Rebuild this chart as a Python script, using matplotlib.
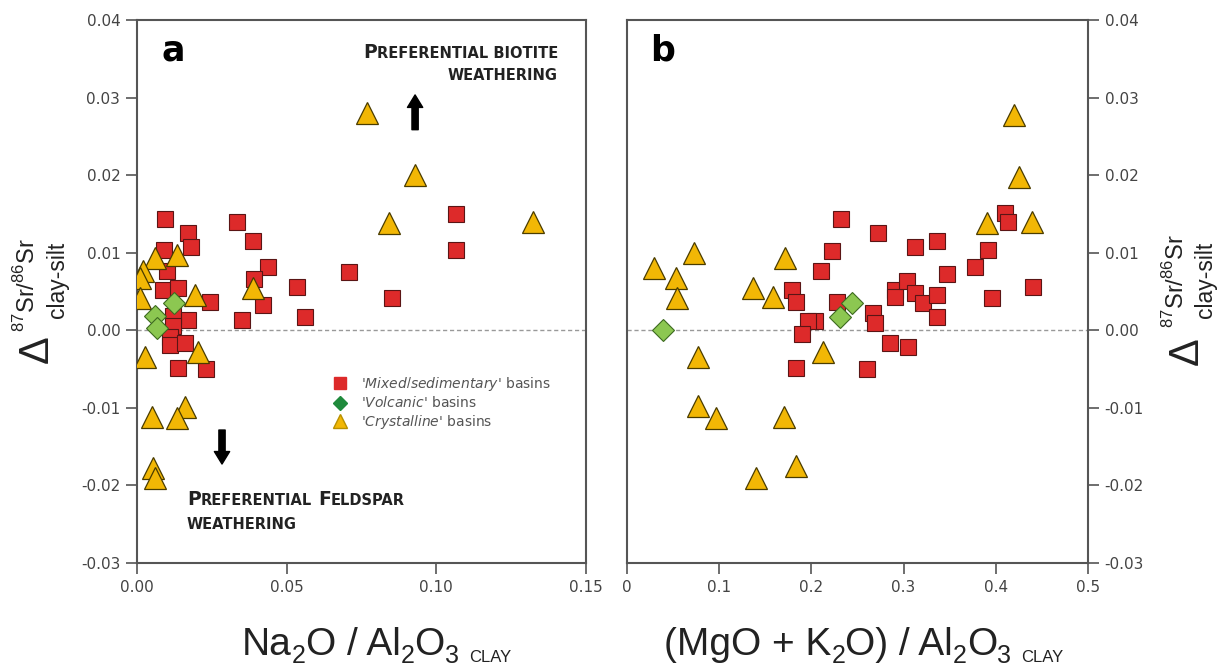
import matplotlib.pyplot as plt
from matplotlib.lines import Line2D
from matplotlib.transforms import IdentityTransform

plt.rcParams['mathtext.fontset'] = 'custom'
plt.rcParams['mathtext.rm'] = 'Liberation Sans'
plt.rcParams['mathtext.it'] = 'DejaVu Sans:italic'
plt.rcParams['font.family'] = 'DejaVu Sans'

# panel a: Na2O/Al2O3 vs delta 87Sr/86Sr
mixed_a_x = [0.0093, 0.0333, 0.017, 0.018, 0.0387, 0.009, 0.010, 0.0437, 0.039, 0.0533,
             0.0087, 0.0137, 0.0243, 0.042, 0.056, 0.035, 0.017, 0.012, 0.012, 0.011,
             0.011, 0.016, 0.0137, 0.023, 0.0707, 0.1067, 0.1067, 0.0853]
mixed_a_y = [0.0144, 0.0139, 0.0125, 0.0107, 0.0115, 0.0103, 0.0077, 0.0082, 0.0066, 0.0056,
             0.0052, 0.0054, 0.0036, 0.0033, 0.0017, 0.0013, 0.0013, 0.0019, 0.0006, -0.0009,
             -0.0019, -0.0017, -0.0048, -0.0050, 0.0075, 0.0150, 0.0103, 0.0041]
volc_a_x = [0.0123, 0.006, 0.0067]
volc_a_y = [0.0035, 0.0018, 0.0003]
cryst_a_x = [0.006, 0.0133, 0.002, 0.001, 0.001, 0.0193, 0.0387, 0.0027, 0.0203, 0.005,
             0.016, 0.0133, 0.0053, 0.006, 0.0767, 0.093, 0.0843, 0.1323]
cryst_a_y = [0.0093, 0.0097, 0.0077, 0.0067, 0.0041, 0.0045, 0.0054, -0.0035, -0.0028, -0.0112,
             -0.0099, -0.0113, -0.0177, -0.019, 0.028, 0.020, 0.0138, 0.0139]

# panel b: (MgO+K2O)/Al2O3 vs delta 87Sr/86Sr
mixed_b_x = [0.2321, 0.2723, 0.2226, 0.2104, 0.1789, 0.1835, 0.2277, 0.2040, 0.1962, 0.1898,
             0.2665, 0.2690, 0.2850, 0.1835, 0.2603, 0.3124, 0.3358, 0.3471, 0.3775, 0.3914,
             0.4100, 0.4132, 0.4402, 0.3959, 0.2909, 0.2909, 0.3036, 0.3124, 0.3211, 0.3358,
             0.3358, 0.3045]
mixed_b_y = [0.0143, 0.0125, 0.0102, 0.0076, 0.0052, 0.0036, 0.0036, 0.0012, 0.0012, -0.0005,
             0.0022, 0.0009, -0.0017, -0.0048, -0.005, 0.0107, 0.0115, 0.0073, 0.0082, 0.0103,
             0.0151, 0.0139, 0.0056, 0.0041, 0.0052, 0.0043, 0.0064, 0.0048, 0.0035, 0.0045,
             0.0017, -0.0021]
volc_b_x = [0.039, 0.2310, 0.2440]
volc_b_y = [0.0, 0.0017, 0.0035]
cryst_b_x = [0.0293, 0.0726, 0.0531, 0.0543, 0.1714, 0.1367, 0.1581, 0.0771, 0.2128, 0.0771,
             0.0966, 0.1702, 0.1396, 0.1835, 0.4252, 0.3904, 0.4392, 0.4197]
cryst_b_y = [0.0080, 0.0099, 0.0068, 0.0041, 0.0093, 0.0055, 0.0043, -0.0035, -0.0028, -0.0097,
             -0.0113, -0.0112, -0.019, -0.0175, 0.0197, 0.0138, 0.0139, 0.0277]

yticks = [-0.03, -0.02, -0.01, 0.00, 0.01, 0.02, 0.03, 0.04]
xticks_a = [0.00, 0.05, 0.10, 0.15]
xticks_b = [0, 0.1, 0.2, 0.3, 0.4, 0.5]
xticklabels_b = ['0', '0.1', '0.2', '0.3', '0.4', '0.5']

red, red_edge = '#dd2a2a', '#5a1515'
yel, yel_edge = '#f2b705', '#4a3c00'
grn, grn_edge = '#8cc751', '#3d6a20'
spine_col = '#555555'
tick_col = '#444444'
txt_col = '#222222'

W, H = 1224, 671
fig = plt.figure(figsize=(W / 100, H / 100), dpi=100)
axa = fig.add_axes([137 / W, 108 / H, 449 / W, 543 / H])
axb = fig.add_axes([627 / W, 108 / H, 461 / W, 543 / H])
rend = fig.canvas.get_renderer()


def draw_points(ax, mx, my, vx, vy, cx, cy):
    ax.axhline(0, color='#999999', lw=1, ls=(0, (3, 2)), zorder=1)
    ax.plot(mx, my, 's', ms=11, mfc=red, mec=red_edge, mew=0.8, zorder=3)
    ax.plot(cx, cy, '^', ms=16, mfc=yel, mec=yel_edge, mew=0.9, zorder=4)
    ax.plot(vx, vy, 'D', ms=11, mfc=grn, mec=grn_edge, mew=0.8, zorder=5)
    ax.set_ylim(-0.03, 0.04)
    ax.set_yticks(yticks)
    ax.set_yticklabels(['%.2f' % t for t in yticks])
    for s in ax.spines.values():
        s.set_color(spine_col)
        s.set_linewidth(1.5)
    ax.tick_params(colors=spine_col, labelcolor=tick_col, labelsize=11, width=1.2, length=8, pad=4)


def put_pieces(x, y, parts, ha='left', family='DejaVu Sans', weight='normal'):
    # x, y in picture pixels (y down); parts are (text, size, drop, gap)
    made = []
    dx = 0
    for txt, size, drop, gap in parts:
        dx += gap
        t = fig.text(x + dx, H - y - drop, txt, transform=IdentityTransform(), fontsize=size,
                     family=family, fontweight=weight, color=txt_col, ha='left', va='baseline')
        dx += t.get_window_extent(rend).width
        made.append(t)
    if ha == 'right':
        for t in made:
            px, py = t.get_position()
            t.set_position((px - dx, py))


def delta_label(xd, yd, xs, ys, xc, yc):
    kw = dict(transform=IdentityTransform(), rotation=90, ha='center', va='bottom',
              family='Liberation Sans', color=txt_col)
    fig.text(xd, H - yd, '\u0394', fontsize=30, **kw)
    fig.text(xs, H - ys, r'$^{87}$Sr/$^{86}$Sr', fontsize=17, **kw)
    fig.text(xc, H - yc, 'clay-silt', fontsize=16.5, **kw)


draw_points(axa, mixed_a_x, mixed_a_y, volc_a_x, volc_a_y, cryst_a_x, cryst_a_y)
axa.set_xlim(0, 0.15)
axa.set_xticks(xticks_a)
axa.set_xticklabels(['%.2f' % t for t in xticks_a])

draw_points(axb, mixed_b_x, mixed_b_y, volc_b_x, volc_b_y, cryst_b_x, cryst_b_y)
axb.set_xlim(0, 0.5)
axb.set_xticks(xticks_b)
axb.set_xticklabels(xticklabels_b)
axb.yaxis.tick_right()

delta_label(37, 363, 27, 332, 57, 318)
delta_label(1187, 365, 1176, 328, 1206, 318)

put_pieces(242, 655, [('Na', 28, 0, 0), ('2', 18, 8, 0), ('O / Al', 28, 0, 0), ('2', 18, 8, 0),
                      ('O', 28, 0, 0), ('3', 18, 8, 0), ('CLAY', 12, 7, 10)], family='Liberation Sans')
put_pieces(664, 655, [('(MgO + K', 28, 0, 0), ('2', 18, 8, 0), ('O) / Al', 28, 0, 0), ('2', 18, 8, 0),
                      ('O', 28, 0, 0), ('3', 18, 8, 0), ('CLAY', 12, 7, 10)], family='Liberation Sans')

axa.text(0.055, 0.975, 'a', transform=axa.transAxes, fontsize=25, fontweight='bold', va='top')
axb.text(0.05, 0.975, 'b', transform=axb.transAxes, fontsize=25, fontweight='bold', va='top')

# small-caps notes
put_pieces(558, 58, [('P', 13.5, 0, 0), ('REFERENTIAL BIOTITE', 10.5, 0, 0)], ha='right', weight='bold')
put_pieces(558, 80, [('WEATHERING', 10.5, 0, 0)], ha='right', weight='bold')
put_pieces(187, 505, [('P', 13.5, 0, 0), ('REFERENTIAL', 10.5, 0, 0), ('F', 13.5, 0, 6),
                      ('ELDSPAR', 10.5, 0, 0)], weight='bold')
put_pieces(187, 529, [('WEATHERING', 10.5, 0, 0)], weight='bold')

arrow = dict(arrowstyle='simple,head_width=1.1,head_length=0.9,tail_width=0.45', color='black')
axa.annotate('', xy=(0.0929, 0.0307), xytext=(0.0929, 0.0255), arrowprops=arrow)
axa.annotate('', xy=(0.0284, -0.0176), xytext=(0.0284, -0.0125), arrowprops=arrow)

handles = [
    Line2D([], [], ls='none', marker='s', ms=8, mfc=red, mec=red),
    Line2D([], [], ls='none', marker='D', ms=7, mfc='#1f8a3c', mec='#1f8a3c'),
    Line2D([], [], ls='none', marker='^', ms=10, mfc=yel, mec='#b89000'),
]
labels = [r"'$\mathit{Mixed/sedimentary}$' basins", r"'$\mathit{Volcanic}$' basins",
          r"'$\mathit{Crystalline}$' basins"]
leg = axa.legend(handles, labels, loc='upper left', bbox_to_anchor=(0.405, 0.37), frameon=False,
                 fontsize=10, handletextpad=0.9, labelspacing=0.2, handlelength=1.2)
for t in leg.get_texts():
    t.set_color('#555555')

fig.savefig('out.png', dpi=100)
